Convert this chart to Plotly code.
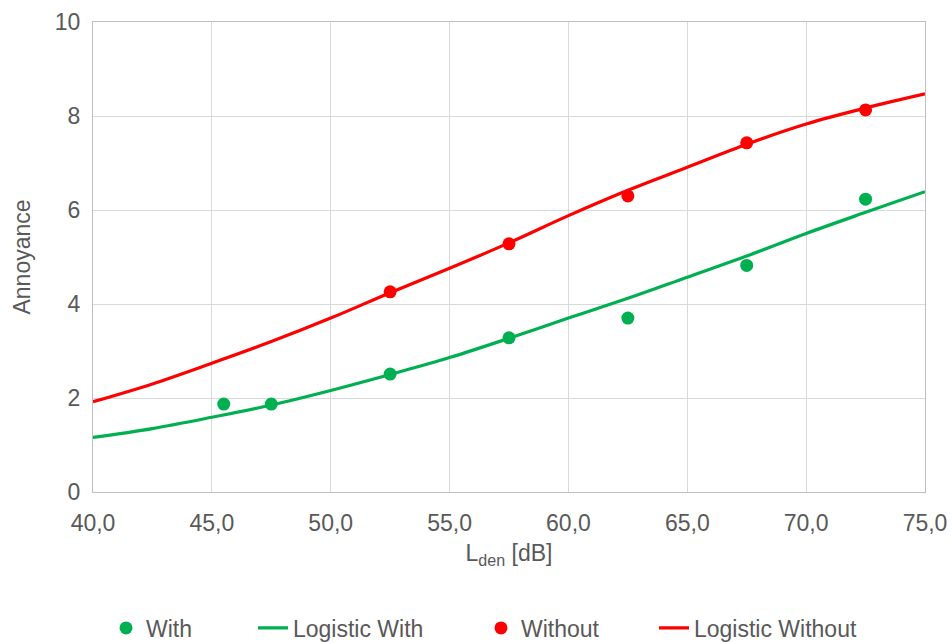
import plotly.graph_objects as go

# Measured points
with_x = [45.5, 47.5, 52.5, 57.5, 62.5, 67.5, 72.5]
with_y = [1.87, 1.87, 2.51, 3.28, 3.70, 4.82, 6.23]
without_x = [52.5, 57.5, 62.5, 67.5, 72.5]
without_y = [4.26, 5.28, 6.30, 7.43, 8.13]

# Fitted logistic curves
curve_x = [40, 42.5, 45, 47.5, 50, 52.5, 55, 57.5, 60, 62.5, 65, 67.5, 70, 72.5, 75]
logistic_with_y = [1.16, 1.35, 1.59, 1.85, 2.16, 2.50, 2.86, 3.27, 3.70, 4.12, 4.57, 5.02, 5.50, 5.95, 6.39]
logistic_without_y = [1.92, 2.30, 2.74, 3.20, 3.70, 4.24, 4.76, 5.30, 5.88, 6.42, 6.91, 7.40, 7.83, 8.17, 8.47]

x_tickvals = [40, 45, 50, 55, 60, 65, 70, 75]
x_ticktext = ["40,0", "45,0", "50,0", "55,0", "60,0", "65,0", "70,0", "75,0"]
y_tickvals = [0, 2, 4, 6, 8, 10]

GREEN = "#00b050"
RED = "#ff0000"
TXT = "#595959"
FONT = "Liberation Sans, Arial, sans-serif"
FS = 23

fig = go.Figure()
fig.add_trace(go.Scatter(x=with_x, y=with_y, mode="markers", name="With",
                         marker=dict(color=GREEN, size=13), legend="legend"))
fig.add_trace(go.Scatter(x=curve_x, y=logistic_with_y, mode="lines", name="Logistic With",
                         line=dict(color=GREEN, width=3.2, shape="spline"), legend="legend2"))
fig.add_trace(go.Scatter(x=without_x, y=without_y, mode="markers", name="Without",
                         marker=dict(color=RED, size=13), legend="legend3"))
fig.add_trace(go.Scatter(x=curve_x, y=logistic_without_y, mode="lines", name="Logistic Without",
                         line=dict(color=RED, width=3.2, shape="spline"), legend="legend4"))

W, H = 952, 643
L, R, T, B = 93, 27, 22, 151
pw = W - L - R
ph = H - T - B


def leg(px_left, px_center_y):
    return dict(x=(px_left - L) / pw, xanchor="left",
                y=(H - B - px_center_y) / ph, yanchor="middle",
                orientation="h", bgcolor="rgba(0,0,0,0)",
                font=dict(size=FS, color=TXT, family=FONT),
                borderwidth=0, itemwidth=30)


fig.update_layout(
    width=W, height=H,
    margin=dict(l=L, r=R, t=T, b=B, autoexpand=False),
    paper_bgcolor="white", plot_bgcolor="white",
    font=dict(family=FONT, size=FS, color=TXT),
    showlegend=True,
    legend=leg(106, 628),
    legend2=leg(253, 628),
    legend3=leg(481, 628),
    legend4=leg(654, 628),
    xaxis=dict(range=[40, 75], tickvals=x_tickvals, ticktext=x_ticktext,
               showgrid=True, gridcolor="#d9d9d9", gridwidth=1,
               showline=True, linecolor="#bfbfbf", linewidth=1, mirror=True,
               ticks="outside", ticklen=10, tickcolor="rgba(0,0,0,0)",
               ticklabeloverflow="allow",
               zeroline=False, automargin=False,
               title=dict(text="L<sub>den</sub> [dB]", font=dict(size=FS, color=TXT), standoff=10)),
    yaxis=dict(range=[0, 10], tickvals=y_tickvals,
               showgrid=True, gridcolor="#d9d9d9", gridwidth=1,
               showline=True, linecolor="#bfbfbf", linewidth=1, mirror=True,
               ticks="outside", ticklen=7, tickcolor="rgba(0,0,0,0)",
               ticklabeloverflow="allow",
               zeroline=False, automargin=False,
               title=dict(text="Annoyance", font=dict(size=FS, color=TXT), standoff=17)),
)

fig.write_html("out.html",
               config={"displayModeBar": False},
               post_script="document.body.style.margin='0';document.body.style.overflow='hidden';")
